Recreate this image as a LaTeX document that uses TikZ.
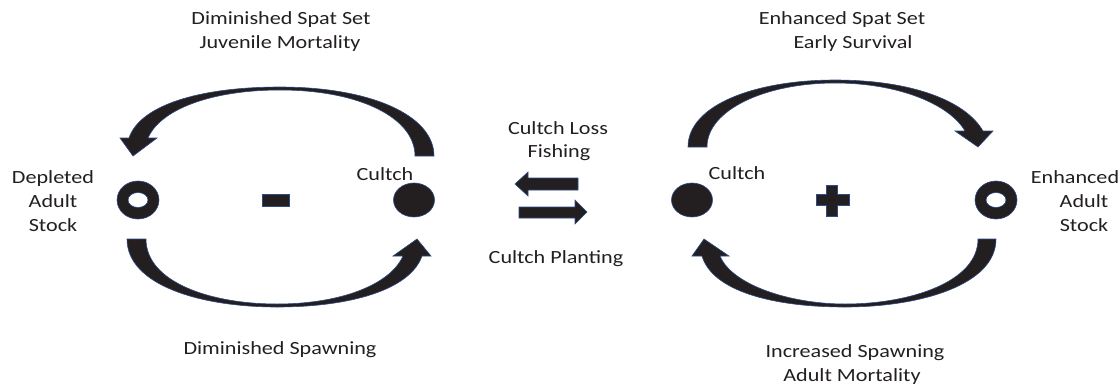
\documentclass[tikz,border=0pt]{standalone}
\usepackage{fontspec}
\setmainfont{Carlito}[FakeStretch=1.19]
\definecolor{ink}{RGB}{35,31,32}
\definecolor{edge}{RGB}{45,75,135}
\begin{document}
\begin{tikzpicture}[x=1bp,y=-1bp,
  lbl/.style={anchor=base, inner sep=0pt, text=ink, font=\fontsize{18.6bp}{24bp}\selectfont},
  shp/.style={fill=ink, draw=edge, line width=0.6bp, line join=miter},
  ring/.style={fill=ink, draw=edge, line width=0.6bp, even odd rule}]
\useasboundingbox (0,0) rectangle (1120,385);

% ---------- left loop ----------
% top curved arrow (right -> left)
\path[shp] (434,156) .. controls (434,115) and (370,87) .. (280,87)
  .. controls (200,87) and (140,105) .. (129,138) -- (120,138) -- (133,156)
  -- (157,138) -- (148,138) .. controls (160,110) and (210,90) .. (280,90)
  .. controls (360,90) and (415,118) .. (415,156) -- cycle;
% bottom curved arrow (left -> right)
\path[shp] (127,239) .. controls (127,285) and (200,307) .. (277,307)
  .. controls (350,307) and (410,290) .. (422,256) -- (431,256) -- (417,239)
  -- (393,256) -- (403,256) .. controls (390,285) and (340,304) .. (277,304)
  .. controls (210,304) and (146,282) .. (146,239) -- cycle;
% depleted adult ring
\path[ring] (138,200) ellipse [x radius=21bp, y radius=19bp]
            (138,200) ellipse [x radius=10bp, y radius=7.5bp];
% cultch
\path[shp] (414,200) ellipse [x radius=20.5bp, y radius=17bp];
% minus
\path[shp] (262,194) rectangle (289,206);

% ---------- right loop ----------
\path[shp] (688,147) .. controls (688,105) and (755,80) .. (835,80)
  .. controls (910,80) and (965,100) .. (983,131) -- (993,131) -- (978,147)
  -- (955,131) -- (965,131) .. controls (950,105) and (900,83) .. (835,83)
  .. controls (765,83) and (707,110) .. (707,147) -- cycle;
\path[shp] (996,239) .. controls (996,285) and (920,307) .. (845,307)
  .. controls (770,307) and (712,290) .. (702,256) -- (692,256) -- (704,239)
  -- (729,256) -- (720,256) .. controls (732,285) and (790,304) .. (845,304)
  .. controls (910,304) and (978,282) .. (978,239) -- cycle;
\path[ring] (996,200) ellipse [x radius=21bp, y radius=19bp]
            (996,200) ellipse [x radius=10bp, y radius=7.5bp];
\path[shp] (692,200) ellipse [x radius=20.5bp, y radius=17bp];
% plus
\path[shp] (826,185) -- (837,185) -- (837,194) -- (849,194) -- (849,205)
  -- (837,205) -- (837,216) -- (826,216) -- (826,205) -- (816,205)
  -- (816,194) -- (826,194) -- cycle;

% ---------- centre block arrows ----------
\path[shp] (578,178) -- (528,178) -- (528,172) -- (515,184) -- (528,196)
  -- (528,190) -- (578,190) -- cycle;
\path[shp] (519,207) -- (575,207) -- (575,200) -- (587,212) -- (575,224)
  -- (575,218) -- (519,218) -- cycle;

% ---------- labels ----------
\node[lbl] (t1) at (281,24) {Diminished Spat Set};
\node[lbl] (t2) at (280,48) {Juvenile Mortality};
\node[lbl] (t3) at (842,24) {Enhanced Spat Set};
\node[lbl] (t4) at (853,48) {Early Survival};
\node[lbl] (d1) at (53,183) {Depleted};
\node[lbl] (d2) at (53,207) {Adult};
\node[lbl] (d3) at (53,231) {Stock};
\node[lbl] (e1) at (1075,183) {Enhanced};
\node[lbl] (e2) at (1084,207) {Adult};
\node[lbl] (e3) at (1084,231) {Stock};
\node[lbl] (c1) at (385,180) {Cultch};
\node[lbl] (c2) at (737,179) {Cultch};
\node[lbl] (m1) at (558,134) {Cultch Loss};
\node[lbl] (m2) at (559,157) {Fishing};
\node[lbl] (m3) at (556,263) {Cultch Planting};
\node[lbl] (b1) at (280,354) {Diminished Spawning};
\node[lbl] (b2) at (855,357) {Increased Spawning};
\node[lbl] (b3) at (852,381) {Adult Mortality};
\end{tikzpicture}
\end{document}
